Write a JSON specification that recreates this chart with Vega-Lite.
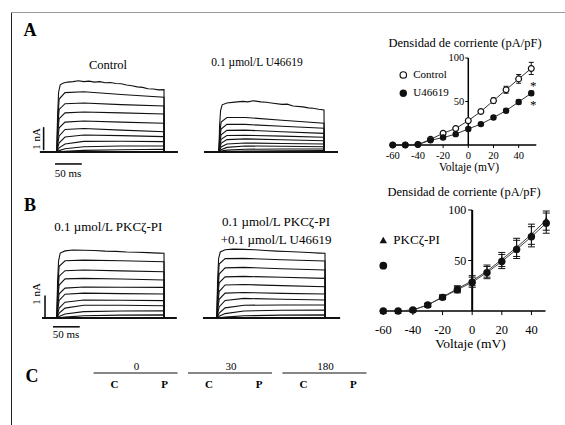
{
"$schema":"https://vega.github.io/schema/vega-lite/v6.json",
"width":565,"height":425,"autosize":"none","padding":0,"background":"white",
"data":{"values":[{"label":"figure"}]},
"datasets":{
"traces":[
{"p":"A1","k":1,"t":0,"i":0},{"p":"A1","k":1,"t":1,"i":1.5},{"p":"A1","k":1,"t":3,"i":2.6},{"p":"A1","k":1,"t":6,"i":2.92},{"p":"A1","k":1,"t":12,"i":3.0},{"p":"A1","k":1,"t":20,"i":3.04},{"p":"A1","k":1,"t":30,"i":3.06},{"p":"A1","k":1,"t":40,"i":3.1},{"p":"A1","k":1,"t":50,"i":3.06},{"p":"A1","k":1,"t":60,"i":3.08},{"p":"A1","k":1,"t":70,"i":3.04},{"p":"A1","k":1,"t":80,"i":3.06},{"p":"A1","k":1,"t":90,"i":3.01},{"p":"A1","k":1,"t":100,"i":3.02},{"p":"A1","k":1,"t":110,"i":2.98},{"p":"A1","k":1,"t":120,"i":2.97},{"p":"A1","k":1,"t":130,"i":2.91},{"p":"A1","k":1,"t":140,"i":2.88},{"p":"A1","k":1,"t":150,"i":2.83},{"p":"A1","k":1,"t":160,"i":2.81},{"p":"A1","k":1,"t":170,"i":2.75},{"p":"A1","k":1,"t":180,"i":2.74},{"p":"A1","k":1,"t":190,"i":2.7},{"p":"A1","k":1,"t":200,"i":2.71},{"p":"A1","k":1,"t":200.5,"i":0},
{"p":"A1","k":2,"t":0,"i":0},{"p":"A1","k":2,"t":1,"i":1.3},{"p":"A1","k":2,"t":4,"i":2.3},{"p":"A1","k":2,"t":15,"i":2.58},{"p":"A1","k":2,"t":50,"i":2.62},{"p":"A1","k":2,"t":120,"i":2.5},{"p":"A1","k":2,"t":200,"i":2.38},{"p":"A1","k":2,"t":200.5,"i":0},
{"p":"A1","k":3,"t":0,"i":0},{"p":"A1","k":3,"t":1,"i":1.0},{"p":"A1","k":3,"t":4,"i":1.85},{"p":"A1","k":3,"t":15,"i":2.1},{"p":"A1","k":3,"t":50,"i":2.13},{"p":"A1","k":3,"t":120,"i":2.06},{"p":"A1","k":3,"t":200,"i":2.0},{"p":"A1","k":3,"t":200.5,"i":0},
{"p":"A1","k":4,"t":0,"i":0},{"p":"A1","k":4,"t":1,"i":0.75},{"p":"A1","k":4,"t":4,"i":1.45},{"p":"A1","k":4,"t":15,"i":1.7},{"p":"A1","k":4,"t":50,"i":1.74},{"p":"A1","k":4,"t":120,"i":1.7},{"p":"A1","k":4,"t":200,"i":1.65},{"p":"A1","k":4,"t":200.5,"i":0},
{"p":"A1","k":5,"t":0,"i":0},{"p":"A1","k":5,"t":1,"i":0.5},{"p":"A1","k":5,"t":4,"i":1.05},{"p":"A1","k":5,"t":15,"i":1.3},{"p":"A1","k":5,"t":50,"i":1.35},{"p":"A1","k":5,"t":120,"i":1.3},{"p":"A1","k":5,"t":200,"i":1.25},{"p":"A1","k":5,"t":200.5,"i":0},
{"p":"A1","k":6,"t":0,"i":0},{"p":"A1","k":6,"t":1,"i":0.3},{"p":"A1","k":6,"t":4,"i":0.7},{"p":"A1","k":6,"t":15,"i":0.98},{"p":"A1","k":6,"t":50,"i":1.02},{"p":"A1","k":6,"t":120,"i":0.95},{"p":"A1","k":6,"t":200,"i":0.88},{"p":"A1","k":6,"t":200.5,"i":0},
{"p":"A1","k":7,"t":0,"i":0},{"p":"A1","k":7,"t":1,"i":0.15},{"p":"A1","k":7,"t":4,"i":0.4},{"p":"A1","k":7,"t":15,"i":0.65},{"p":"A1","k":7,"t":50,"i":0.74},{"p":"A1","k":7,"t":120,"i":0.71},{"p":"A1","k":7,"t":200,"i":0.67},{"p":"A1","k":7,"t":200.5,"i":0},
{"p":"A1","k":8,"t":0,"i":0},{"p":"A1","k":8,"t":1,"i":0.05},{"p":"A1","k":8,"t":4,"i":0.18},{"p":"A1","k":8,"t":15,"i":0.35},{"p":"A1","k":8,"t":50,"i":0.46},{"p":"A1","k":8,"t":120,"i":0.47},{"p":"A1","k":8,"t":200,"i":0.45},{"p":"A1","k":8,"t":200.5,"i":0},
{"p":"A1","k":9,"t":0,"i":0},{"p":"A1","k":9,"t":1,"i":0.02},{"p":"A1","k":9,"t":4,"i":0.06},{"p":"A1","k":9,"t":15,"i":0.14},{"p":"A1","k":9,"t":50,"i":0.23},{"p":"A1","k":9,"t":120,"i":0.26},{"p":"A1","k":9,"t":200,"i":0.26},{"p":"A1","k":9,"t":200.5,"i":0},
{"p":"A1","k":10,"t":0,"i":0},{"p":"A1","k":10,"t":1,"i":0},{"p":"A1","k":10,"t":4,"i":0.01},{"p":"A1","k":10,"t":15,"i":0.03},{"p":"A1","k":10,"t":50,"i":0.07},{"p":"A1","k":10,"t":120,"i":0.1},{"p":"A1","k":10,"t":200,"i":0.12},{"p":"A1","k":10,"t":200.5,"i":0},
{"p":"A2","k":1,"t":0,"i":0},{"p":"A2","k":1,"t":1,"i":1.1},{"p":"A2","k":1,"t":3,"i":1.8},{"p":"A2","k":1,"t":6,"i":2.05},{"p":"A2","k":1,"t":15,"i":2.13},{"p":"A2","k":1,"t":30,"i":2.17},{"p":"A2","k":1,"t":45,"i":2.2},{"p":"A2","k":1,"t":55,"i":2.18},{"p":"A2","k":1,"t":65,"i":2.23},{"p":"A2","k":1,"t":80,"i":2.18},{"p":"A2","k":1,"t":90,"i":2.16},{"p":"A2","k":1,"t":103,"i":2.12},{"p":"A2","k":1,"t":120,"i":2.07},{"p":"A2","k":1,"t":130,"i":2.08},{"p":"A2","k":1,"t":141,"i":2.0},{"p":"A2","k":1,"t":160,"i":1.96},{"p":"A2","k":1,"t":170,"i":1.92},{"p":"A2","k":1,"t":179,"i":1.9},{"p":"A2","k":1,"t":190,"i":1.86},{"p":"A2","k":1,"t":200,"i":1.83},{"p":"A2","k":1,"t":200.5,"i":0},
{"p":"A2","k":2,"t":0,"i":0},{"p":"A2","k":2,"t":1,"i":0.7},{"p":"A2","k":2,"t":4,"i":1.3},{"p":"A2","k":2,"t":15,"i":1.5},{"p":"A2","k":2,"t":50,"i":1.5},{"p":"A2","k":2,"t":120,"i":1.38},{"p":"A2","k":2,"t":200,"i":1.25},{"p":"A2","k":2,"t":200.5,"i":0},
{"p":"A2","k":3,"t":0,"i":0},{"p":"A2","k":3,"t":1,"i":0.5},{"p":"A2","k":3,"t":4,"i":1.0},{"p":"A2","k":3,"t":15,"i":1.2},{"p":"A2","k":3,"t":50,"i":1.2},{"p":"A2","k":3,"t":120,"i":1.12},{"p":"A2","k":3,"t":200,"i":1.03},{"p":"A2","k":3,"t":200.5,"i":0},
{"p":"A2","k":4,"t":0,"i":0},{"p":"A2","k":4,"t":1,"i":0.35},{"p":"A2","k":4,"t":4,"i":0.75},{"p":"A2","k":4,"t":15,"i":0.94},{"p":"A2","k":4,"t":50,"i":0.95},{"p":"A2","k":4,"t":120,"i":0.88},{"p":"A2","k":4,"t":200,"i":0.81},{"p":"A2","k":4,"t":200.5,"i":0},
{"p":"A2","k":5,"t":0,"i":0},{"p":"A2","k":5,"t":1,"i":0.22},{"p":"A2","k":5,"t":4,"i":0.55},{"p":"A2","k":5,"t":15,"i":0.72},{"p":"A2","k":5,"t":50,"i":0.73},{"p":"A2","k":5,"t":120,"i":0.69},{"p":"A2","k":5,"t":200,"i":0.64},{"p":"A2","k":5,"t":200.5,"i":0},
{"p":"A2","k":6,"t":0,"i":0},{"p":"A2","k":6,"t":1,"i":0.12},{"p":"A2","k":6,"t":4,"i":0.38},{"p":"A2","k":6,"t":15,"i":0.54},{"p":"A2","k":6,"t":50,"i":0.57},{"p":"A2","k":6,"t":120,"i":0.53},{"p":"A2","k":6,"t":200,"i":0.49},{"p":"A2","k":6,"t":200.5,"i":0},
{"p":"A2","k":7,"t":0,"i":0},{"p":"A2","k":7,"t":1,"i":0.06},{"p":"A2","k":7,"t":4,"i":0.22},{"p":"A2","k":7,"t":15,"i":0.35},{"p":"A2","k":7,"t":50,"i":0.39},{"p":"A2","k":7,"t":120,"i":0.37},{"p":"A2","k":7,"t":200,"i":0.35},{"p":"A2","k":7,"t":200.5,"i":0},
{"p":"A2","k":8,"t":0,"i":0},{"p":"A2","k":8,"t":1,"i":0.03},{"p":"A2","k":8,"t":4,"i":0.1},{"p":"A2","k":8,"t":15,"i":0.2},{"p":"A2","k":8,"t":50,"i":0.26},{"p":"A2","k":8,"t":120,"i":0.25},{"p":"A2","k":8,"t":200,"i":0.23},{"p":"A2","k":8,"t":200.5,"i":0},
{"p":"A2","k":9,"t":0,"i":0},{"p":"A2","k":9,"t":1,"i":0.01},{"p":"A2","k":9,"t":4,"i":0.04},{"p":"A2","k":9,"t":15,"i":0.08},{"p":"A2","k":9,"t":50,"i":0.12},{"p":"A2","k":9,"t":120,"i":0.13},{"p":"A2","k":9,"t":200,"i":0.13},{"p":"A2","k":9,"t":200.5,"i":0},
{"p":"A2","k":10,"t":0,"i":0},{"p":"A2","k":10,"t":1,"i":0},{"p":"A2","k":10,"t":4,"i":0.01},{"p":"A2","k":10,"t":15,"i":0.02},{"p":"A2","k":10,"t":50,"i":0.04},{"p":"A2","k":10,"t":120,"i":0.05},{"p":"A2","k":10,"t":200,"i":0.06},{"p":"A2","k":10,"t":200.5,"i":0},
{"p":"B1","k":1,"t":0,"i":0},{"p":"B1","k":1,"t":1,"i":1.6},{"p":"B1","k":1,"t":3,"i":2.6},{"p":"B1","k":1,"t":6,"i":2.95},{"p":"B1","k":1,"t":15,"i":3.05},{"p":"B1","k":1,"t":30,"i":3.09},{"p":"B1","k":1,"t":50,"i":3.08},{"p":"B1","k":1,"t":70,"i":3.07},{"p":"B1","k":1,"t":90,"i":3.04},{"p":"B1","k":1,"t":110,"i":3.03},{"p":"B1","k":1,"t":130,"i":3.0},{"p":"B1","k":1,"t":150,"i":2.99},{"p":"B1","k":1,"t":170,"i":2.97},{"p":"B1","k":1,"t":190,"i":2.95},{"p":"B1","k":1,"t":200,"i":2.94},{"p":"B1","k":1,"t":200.5,"i":0},
{"p":"B1","k":2,"t":0,"i":0},{"p":"B1","k":2,"t":1,"i":1.3},{"p":"B1","k":2,"t":4,"i":2.35},{"p":"B1","k":2,"t":15,"i":2.6},{"p":"B1","k":2,"t":50,"i":2.63},{"p":"B1","k":2,"t":120,"i":2.6},{"p":"B1","k":2,"t":200,"i":2.56},{"p":"B1","k":2,"t":200.5,"i":0},
{"p":"B1","k":3,"t":0,"i":0},{"p":"B1","k":3,"t":1,"i":1.0},{"p":"B1","k":3,"t":4,"i":1.9},{"p":"B1","k":3,"t":15,"i":2.15},{"p":"B1","k":3,"t":50,"i":2.18},{"p":"B1","k":3,"t":120,"i":2.14},{"p":"B1","k":3,"t":200,"i":2.1},{"p":"B1","k":3,"t":200.5,"i":0},
{"p":"B1","k":4,"t":0,"i":0},{"p":"B1","k":4,"t":1,"i":0.75},{"p":"B1","k":4,"t":4,"i":1.5},{"p":"B1","k":4,"t":15,"i":1.78},{"p":"B1","k":4,"t":50,"i":1.8},{"p":"B1","k":4,"t":120,"i":1.77},{"p":"B1","k":4,"t":200,"i":1.73},{"p":"B1","k":4,"t":200.5,"i":0},
{"p":"B1","k":5,"t":0,"i":0},{"p":"B1","k":5,"t":1,"i":0.5},{"p":"B1","k":5,"t":4,"i":1.1},{"p":"B1","k":5,"t":15,"i":1.36},{"p":"B1","k":5,"t":50,"i":1.41},{"p":"B1","k":5,"t":120,"i":1.4},{"p":"B1","k":5,"t":200,"i":1.39},{"p":"B1","k":5,"t":200.5,"i":0},
{"p":"B1","k":6,"t":0,"i":0},{"p":"B1","k":6,"t":1,"i":0.32},{"p":"B1","k":6,"t":4,"i":0.8},{"p":"B1","k":6,"t":15,"i":1.08},{"p":"B1","k":6,"t":50,"i":1.13},{"p":"B1","k":6,"t":120,"i":1.11},{"p":"B1","k":6,"t":200,"i":1.09},{"p":"B1","k":6,"t":200.5,"i":0},
{"p":"B1","k":7,"t":0,"i":0},{"p":"B1","k":7,"t":1,"i":0.15},{"p":"B1","k":7,"t":4,"i":0.45},{"p":"B1","k":7,"t":15,"i":0.72},{"p":"B1","k":7,"t":50,"i":0.82},{"p":"B1","k":7,"t":120,"i":0.81},{"p":"B1","k":7,"t":200,"i":0.79},{"p":"B1","k":7,"t":200.5,"i":0},
{"p":"B1","k":8,"t":0,"i":0},{"p":"B1","k":8,"t":1,"i":0.06},{"p":"B1","k":8,"t":4,"i":0.22},{"p":"B1","k":8,"t":15,"i":0.45},{"p":"B1","k":8,"t":50,"i":0.58},{"p":"B1","k":8,"t":120,"i":0.58},{"p":"B1","k":8,"t":200,"i":0.56},{"p":"B1","k":8,"t":200.5,"i":0},
{"p":"B1","k":9,"t":0,"i":0},{"p":"B1","k":9,"t":1,"i":0.02},{"p":"B1","k":9,"t":4,"i":0.07},{"p":"B1","k":9,"t":15,"i":0.18},{"p":"B1","k":9,"t":50,"i":0.29},{"p":"B1","k":9,"t":120,"i":0.32},{"p":"B1","k":9,"t":200,"i":0.33},{"p":"B1","k":9,"t":200.5,"i":0},
{"p":"B1","k":10,"t":0,"i":0},{"p":"B1","k":10,"t":1,"i":0},{"p":"B1","k":10,"t":4,"i":0.01},{"p":"B1","k":10,"t":15,"i":0.04},{"p":"B1","k":10,"t":50,"i":0.1},{"p":"B1","k":10,"t":120,"i":0.13},{"p":"B1","k":10,"t":200,"i":0.14},{"p":"B1","k":10,"t":200.5,"i":0},
{"p":"B2","k":1,"t":0,"i":0},{"p":"B2","k":1,"t":1,"i":1.6},{"p":"B2","k":1,"t":3,"i":2.7},{"p":"B2","k":1,"t":6,"i":3.0},{"p":"B2","k":1,"t":15,"i":3.1},{"p":"B2","k":1,"t":30,"i":3.13},{"p":"B2","k":1,"t":50,"i":3.12},{"p":"B2","k":1,"t":70,"i":3.1},{"p":"B2","k":1,"t":90,"i":3.07},{"p":"B2","k":1,"t":110,"i":3.04},{"p":"B2","k":1,"t":130,"i":3.02},{"p":"B2","k":1,"t":150,"i":3.0},{"p":"B2","k":1,"t":170,"i":2.98},{"p":"B2","k":1,"t":190,"i":2.95},{"p":"B2","k":1,"t":200,"i":2.94},{"p":"B2","k":1,"t":200.5,"i":0},
{"p":"B2","k":2,"t":0,"i":0},{"p":"B2","k":2,"t":1,"i":1.35},{"p":"B2","k":2,"t":4,"i":2.45},{"p":"B2","k":2,"t":15,"i":2.7},{"p":"B2","k":2,"t":50,"i":2.71},{"p":"B2","k":2,"t":120,"i":2.65},{"p":"B2","k":2,"t":200,"i":2.59},{"p":"B2","k":2,"t":200.5,"i":0},
{"p":"B2","k":3,"t":0,"i":0},{"p":"B2","k":3,"t":1,"i":1.05},{"p":"B2","k":3,"t":4,"i":2.0},{"p":"B2","k":3,"t":15,"i":2.28},{"p":"B2","k":3,"t":50,"i":2.3},{"p":"B2","k":3,"t":120,"i":2.24},{"p":"B2","k":3,"t":200,"i":2.18},{"p":"B2","k":3,"t":200.5,"i":0},
{"p":"B2","k":4,"t":0,"i":0},{"p":"B2","k":4,"t":1,"i":0.8},{"p":"B2","k":4,"t":4,"i":1.6},{"p":"B2","k":4,"t":15,"i":1.87},{"p":"B2","k":4,"t":50,"i":1.89},{"p":"B2","k":4,"t":120,"i":1.85},{"p":"B2","k":4,"t":200,"i":1.8},{"p":"B2","k":4,"t":200.5,"i":0},
{"p":"B2","k":5,"t":0,"i":0},{"p":"B2","k":5,"t":1,"i":0.55},{"p":"B2","k":5,"t":4,"i":1.2},{"p":"B2","k":5,"t":15,"i":1.5},{"p":"B2","k":5,"t":50,"i":1.52},{"p":"B2","k":5,"t":120,"i":1.47},{"p":"B2","k":5,"t":200,"i":1.42},{"p":"B2","k":5,"t":200.5,"i":0},
{"p":"B2","k":6,"t":0,"i":0},{"p":"B2","k":6,"t":1,"i":0.33},{"p":"B2","k":6,"t":4,"i":0.85},{"p":"B2","k":6,"t":15,"i":1.13},{"p":"B2","k":6,"t":50,"i":1.16},{"p":"B2","k":6,"t":120,"i":1.12},{"p":"B2","k":6,"t":200,"i":1.09},{"p":"B2","k":6,"t":200.5,"i":0},
{"p":"B2","k":7,"t":0,"i":0},{"p":"B2","k":7,"t":1,"i":0.16},{"p":"B2","k":7,"t":4,"i":0.5},{"p":"B2","k":7,"t":15,"i":0.8},{"p":"B2","k":7,"t":50,"i":0.89},{"p":"B2","k":7,"t":120,"i":0.85},{"p":"B2","k":7,"t":200,"i":0.82},{"p":"B2","k":7,"t":200.5,"i":0},
{"p":"B2","k":8,"t":0,"i":0},{"p":"B2","k":8,"t":1,"i":0.06},{"p":"B2","k":8,"t":4,"i":0.22},{"p":"B2","k":8,"t":15,"i":0.46},{"p":"B2","k":8,"t":50,"i":0.58},{"p":"B2","k":8,"t":120,"i":0.59},{"p":"B2","k":8,"t":200,"i":0.59},{"p":"B2","k":8,"t":200.5,"i":0},
{"p":"B2","k":9,"t":0,"i":0},{"p":"B2","k":9,"t":1,"i":0.02},{"p":"B2","k":9,"t":4,"i":0.08},{"p":"B2","k":9,"t":15,"i":0.2},{"p":"B2","k":9,"t":50,"i":0.32},{"p":"B2","k":9,"t":120,"i":0.35},{"p":"B2","k":9,"t":200,"i":0.36},{"p":"B2","k":9,"t":200.5,"i":0},
{"p":"B2","k":10,"t":0,"i":0},{"p":"B2","k":10,"t":1,"i":0},{"p":"B2","k":10,"t":4,"i":0.01},{"p":"B2","k":10,"t":15,"i":0.04},{"p":"B2","k":10,"t":50,"i":0.1},{"p":"B2","k":10,"t":120,"i":0.13},{"p":"B2","k":10,"t":200,"i":0.14},{"p":"B2","k":10,"t":200.5,"i":0}
],
"iv":[
{"panel":"A","s":"Control","v":-60,"m":0,"lo":-0.5,"hi":0.5},{"panel":"A","s":"Control","v":-50,"m":0,"lo":-0.5,"hi":0.5},{"panel":"A","s":"Control","v":-40,"m":0.5,"lo":0,"hi":1},{"panel":"A","s":"Control","v":-30,"m":6.5,"lo":5.5,"hi":7.5},{"panel":"A","s":"Control","v":-20,"m":13.5,"lo":12,"hi":15},{"panel":"A","s":"Control","v":-10,"m":19,"lo":17.5,"hi":20.5},{"panel":"A","s":"Control","v":0,"m":28,"lo":26,"hi":30},{"panel":"A","s":"Control","v":10,"m":38.5,"lo":36.5,"hi":40.5},{"panel":"A","s":"Control","v":20,"m":51,"lo":48,"hi":54},{"panel":"A","s":"Control","v":30,"m":63.5,"lo":59.5,"hi":67.5},{"panel":"A","s":"Control","v":40,"m":76,"lo":71,"hi":81},{"panel":"A","s":"Control","v":50,"m":88,"lo":81,"hi":95},
{"panel":"A","s":"U46619","v":-60,"m":0,"lo":-0.5,"hi":0.5},{"panel":"A","s":"U46619","v":-50,"m":0,"lo":-0.5,"hi":0.5},{"panel":"A","s":"U46619","v":-40,"m":0.5,"lo":0,"hi":1},{"panel":"A","s":"U46619","v":-30,"m":5.5,"lo":4.5,"hi":6.5},{"panel":"A","s":"U46619","v":-20,"m":8.5,"lo":7,"hi":10},{"panel":"A","s":"U46619","v":-10,"m":12.5,"lo":11,"hi":14},{"panel":"A","s":"U46619","v":0,"m":18.5,"lo":17,"hi":20},{"panel":"A","s":"U46619","v":10,"m":24,"lo":22.5,"hi":25.5},{"panel":"A","s":"U46619","v":20,"m":31.5,"lo":29.5,"hi":33.5},{"panel":"A","s":"U46619","v":30,"m":39.5,"lo":37.5,"hi":41.5},{"panel":"A","s":"U46619","v":40,"m":49.5,"lo":47,"hi":52},{"panel":"A","s":"U46619","v":50,"m":59.5,"lo":57,"hi":62},
{"panel":"B","s":"PKCζ-PI","v":-60,"m":0,"lo":-0.5,"hi":0.5},{"panel":"B","s":"PKCζ-PI","v":-50,"m":0,"lo":-0.5,"hi":0.5},{"panel":"B","s":"PKCζ-PI","v":-40,"m":1,"lo":0,"hi":2},{"panel":"B","s":"PKCζ-PI","v":-30,"m":6,"lo":4.5,"hi":7.5},{"panel":"B","s":"PKCζ-PI","v":-20,"m":14,"lo":12,"hi":16},{"panel":"B","s":"PKCζ-PI","v":-10,"m":22,"lo":19,"hi":25},{"panel":"B","s":"PKCζ-PI","v":0,"m":30,"lo":25,"hi":35},{"panel":"B","s":"PKCζ-PI","v":10,"m":39.5,"lo":33.5,"hi":45.5},{"panel":"B","s":"PKCζ-PI","v":20,"m":51,"lo":44,"hi":58},{"panel":"B","s":"PKCζ-PI","v":30,"m":63,"lo":54,"hi":72},{"panel":"B","s":"PKCζ-PI","v":40,"m":76,"lo":66,"hi":86},{"panel":"B","s":"PKCζ-PI","v":50,"m":90,"lo":80,"hi":99},
{"panel":"B","s":"PKCζ-PI+U46619","v":-60,"m":0,"lo":-0.5,"hi":0.5},{"panel":"B","s":"PKCζ-PI+U46619","v":-50,"m":0,"lo":-0.5,"hi":0.5},{"panel":"B","s":"PKCζ-PI+U46619","v":-40,"m":1,"lo":0,"hi":2},{"panel":"B","s":"PKCζ-PI+U46619","v":-30,"m":6,"lo":4.5,"hi":7.5},{"panel":"B","s":"PKCζ-PI+U46619","v":-20,"m":13.5,"lo":11.5,"hi":15.5},{"panel":"B","s":"PKCζ-PI+U46619","v":-10,"m":21,"lo":18,"hi":24},{"panel":"B","s":"PKCζ-PI+U46619","v":0,"m":28.5,"lo":23.5,"hi":33.5},{"panel":"B","s":"PKCζ-PI+U46619","v":10,"m":38,"lo":32,"hi":44},{"panel":"B","s":"PKCζ-PI+U46619","v":20,"m":49,"lo":42,"hi":56},{"panel":"B","s":"PKCζ-PI+U46619","v":30,"m":61,"lo":52,"hi":70},{"panel":"B","s":"PKCζ-PI+U46619","v":40,"m":73.5,"lo":63.5,"hi":83.5},{"panel":"B","s":"PKCζ-PI+U46619","v":50,"m":87,"lo":77,"hi":97}
],
"xticks":[{"v":-60,"label":"-60"},{"v":-40,"label":"-40"},{"v":-20,"label":"-20"},{"v":0,"label":"0"},{"v":20,"label":"20"},{"v":40,"label":"40"}],
"yticks":[{"m":50,"label":"50"},{"m":100,"label":"100"}],
"cpanel":[
{"time":"0","lane":"C"},{"time":"0","lane":"P"},{"time":"30","lane":"C"},{"time":"30","lane":"P"},{"time":"180","lane":"C"},{"time":"180","lane":"P"}
]
},
"layer":[
{"layer":[
 {"mark":{"type":"rule","color":"#222","strokeWidth":1},"encoding":{"x":{"datum":0,"type":"quantitative","scale":{"domain":[0,1],"range":[11.5,565],"nice":false,"zero":false},"axis":null},"y":{"datum":0,"type":"quantitative","scale":{"domain":[0,1],"range":[425,12.5],"nice":false,"zero":false},"axis":null},"y2":{"datum":1}}},
 {"mark":{"type":"rule","color":"#999","strokeWidth":1},"encoding":{"x":{"datum":0,"type":"quantitative","scale":{"domain":[0,1],"range":[11.5,565],"nice":false,"zero":false},"axis":null},"x2":{"datum":1},"y":{"datum":1,"type":"quantitative","scale":{"domain":[0,1],"range":[425,12.5],"nice":false,"zero":false},"axis":null}}}
]},
{"layer":[
 {"data":{"name":"traces"},"transform":[{"filter":"datum.p=='A1'"}],"mark":{"type":"line","color":"#111","strokeWidth":1.1},"encoding":{"x":{"field":"t","type":"quantitative","scale":{"domain":[-40,240],"range":[35.6,185.4],"nice":false,"zero":false},"axis":null},"y":{"field":"i","type":"quantitative","scale":{"domain":[0,3],"range":[152,83],"nice":false,"zero":false},"axis":null},"detail":{"field":"k","type":"nominal"}}},
 {"mark":{"type":"rule","color":"#111","strokeWidth":2.2},"encoding":{"x":{"datum":-32,"type":"quantitative","scale":{"domain":[-40,240],"range":[35.6,185.4],"nice":false,"zero":false},"axis":null},"x2":{"datum":226},"y":{"datum":0,"type":"quantitative","scale":{"domain":[0,3],"range":[152,83],"nice":false,"zero":false},"axis":null}}},
 {"mark":{"type":"rule","color":"#111","strokeWidth":1.6},"encoding":{"x":{"datum":-25,"type":"quantitative","scale":{"domain":[-40,240],"range":[35.6,185.4],"nice":false,"zero":false},"axis":null},"y":{"datum":0.08,"type":"quantitative","scale":{"domain":[0,3],"range":[152,83],"nice":false,"zero":false},"axis":null},"y2":{"datum":1.08}}},
 {"mark":{"type":"rule","color":"#111","strokeWidth":1.6},"encoding":{"x":{"datum":-3.7,"type":"quantitative","scale":{"domain":[-40,240],"range":[35.6,185.4],"nice":false,"zero":false},"axis":null},"x2":{"datum":46.3},"y":{"datum":-0.52,"type":"quantitative","scale":{"domain":[0,3],"range":[152,83],"nice":false,"zero":false},"axis":null}}},
 {"mark":{"type":"text","text":"1 nA","angle":270,"fontSize":11,"color":"#000"},"encoding":{"x":{"datum":-37.4,"type":"quantitative","scale":{"domain":[-40,240],"range":[35.6,185.4],"nice":false,"zero":false},"axis":null},"y":{"datum":0.57,"type":"quantitative","scale":{"domain":[0,3],"range":[152,83],"nice":false,"zero":false},"axis":null}}},
 {"mark":{"type":"text","text":"50 ms","fontSize":11,"color":"#000"},"encoding":{"x":{"datum":20.6,"type":"quantitative","scale":{"domain":[-40,240],"range":[35.6,185.4],"nice":false,"zero":false},"axis":null},"y":{"datum":-0.96,"type":"quantitative","scale":{"domain":[0,3],"range":[152,83],"nice":false,"zero":false},"axis":null}}},
 {"mark":{"type":"text","text":"Control","fontSize":12.5,"color":"#000"},"encoding":{"x":{"datum":95.3,"type":"quantitative","scale":{"domain":[-40,240],"range":[35.6,185.4],"nice":false,"zero":false},"axis":null},"y":{"datum":3.78,"type":"quantitative","scale":{"domain":[0,3],"range":[152,83],"nice":false,"zero":false},"axis":null}}},
 {"mark":{"type":"text","text":"A","fontSize":18,"fontWeight":"bold","color":"#000"},"encoding":{"x":{"datum":-50.5,"type":"quantitative","scale":{"domain":[-40,240],"range":[35.6,185.4],"nice":false,"zero":false},"axis":null},"y":{"datum":5.26,"type":"quantitative","scale":{"domain":[0,3],"range":[152,83],"nice":false,"zero":false},"axis":null}}}
]},
{"layer":[
 {"data":{"name":"traces"},"transform":[{"filter":"datum.p=='A2'"}],"mark":{"type":"line","color":"#111","strokeWidth":1.1},"encoding":{"x":{"field":"t","type":"quantitative","scale":{"domain":[-40,240],"range":[198,345],"nice":false,"zero":false},"axis":null},"y":{"field":"i","type":"quantitative","scale":{"domain":[0,3],"range":[152,83],"nice":false,"zero":false},"axis":null},"detail":{"field":"k","type":"nominal"}}},
 {"mark":{"type":"rule","color":"#111","strokeWidth":2.2},"encoding":{"x":{"datum":-28.6,"type":"quantitative","scale":{"domain":[-40,240],"range":[198,345],"nice":false,"zero":false},"axis":null},"x2":{"datum":226.7},"y":{"datum":0,"type":"quantitative","scale":{"domain":[0,3],"range":[152,83],"nice":false,"zero":false},"axis":null}}},
 {"mark":{"type":"text","text":"0.1 µmol/L U46619","fontSize":11.5,"color":"#000"},"encoding":{"x":{"datum":72.4,"type":"quantitative","scale":{"domain":[-40,240],"range":[198,345],"nice":false,"zero":false},"axis":null},"y":{"datum":3.87,"type":"quantitative","scale":{"domain":[0,3],"range":[152,83],"nice":false,"zero":false},"axis":null}}}
]},
{"layer":[
 {"data":{"name":"traces"},"transform":[{"filter":"datum.p=='B1'"}],"mark":{"type":"line","color":"#111","strokeWidth":1.1},"encoding":{"x":{"field":"t","type":"quantitative","scale":{"domain":[-40,240],"range":[35.6,185.4],"nice":false,"zero":false},"axis":null},"y":{"field":"i","type":"quantitative","scale":{"domain":[0,3],"range":[318,252],"nice":false,"zero":false},"axis":null},"detail":{"field":"k","type":"nominal"}}},
 {"mark":{"type":"rule","color":"#111","strokeWidth":2.2},"encoding":{"x":{"datum":-28,"type":"quantitative","scale":{"domain":[-40,240],"range":[35.6,185.4],"nice":false,"zero":false},"axis":null},"x2":{"datum":224},"y":{"datum":0,"type":"quantitative","scale":{"domain":[0,3],"range":[318,252],"nice":false,"zero":false},"axis":null}}},
 {"mark":{"type":"rule","color":"#111","strokeWidth":1.6},"encoding":{"x":{"datum":-22.4,"type":"quantitative","scale":{"domain":[-40,240],"range":[35.6,185.4],"nice":false,"zero":false},"axis":null},"y":{"datum":0.05,"type":"quantitative","scale":{"domain":[0,3],"range":[318,252],"nice":false,"zero":false},"axis":null},"y2":{"datum":1.02}}},
 {"mark":{"type":"rule","color":"#111","strokeWidth":1.6},"encoding":{"x":{"datum":-7.5,"type":"quantitative","scale":{"domain":[-40,240],"range":[35.6,185.4],"nice":false,"zero":false},"axis":null},"x2":{"datum":42.5},"y":{"datum":-0.4,"type":"quantitative","scale":{"domain":[0,3],"range":[318,252],"nice":false,"zero":false},"axis":null}}},
 {"mark":{"type":"text","text":"1 nA","angle":270,"fontSize":11,"color":"#000"},"encoding":{"x":{"datum":-37.4,"type":"quantitative","scale":{"domain":[-40,240],"range":[35.6,185.4],"nice":false,"zero":false},"axis":null},"y":{"datum":1.09,"type":"quantitative","scale":{"domain":[0,3],"range":[318,252],"nice":false,"zero":false},"axis":null}}},
 {"mark":{"type":"text","text":"50 ms","fontSize":11,"color":"#000"},"encoding":{"x":{"datum":16.8,"type":"quantitative","scale":{"domain":[-40,240],"range":[35.6,185.4],"nice":false,"zero":false},"axis":null},"y":{"datum":-0.77,"type":"quantitative","scale":{"domain":[0,3],"range":[318,252],"nice":false,"zero":false},"axis":null}}},
 {"mark":{"type":"text","text":"0.1 µmol/L PKCζ-PI","fontSize":13,"color":"#000"},"encoding":{"x":{"datum":95.9,"type":"quantitative","scale":{"domain":[-40,240],"range":[35.6,185.4],"nice":false,"zero":false},"axis":null},"y":{"datum":4.14,"type":"quantitative","scale":{"domain":[0,3],"range":[318,252],"nice":false,"zero":false},"axis":null}}},
 {"mark":{"type":"text","text":"B","fontSize":18,"fontWeight":"bold","color":"#000"},"encoding":{"x":{"datum":-50.5,"type":"quantitative","scale":{"domain":[-40,240],"range":[35.6,185.4],"nice":false,"zero":false},"axis":null},"y":{"datum":5.09,"type":"quantitative","scale":{"domain":[0,3],"range":[318,252],"nice":false,"zero":false},"axis":null}}},
 {"mark":{"type":"text","text":"C","fontSize":18,"fontWeight":"bold","color":"#000"},"encoding":{"x":{"datum":-46.7,"type":"quantitative","scale":{"domain":[-40,240],"range":[35.6,185.4],"nice":false,"zero":false},"axis":null},"y":{"datum":-2.68,"type":"quantitative","scale":{"domain":[0,3],"range":[318,252],"nice":false,"zero":false},"axis":null}}}
]},
{"layer":[
 {"data":{"name":"traces"},"transform":[{"filter":"datum.p=='B2'"}],"mark":{"type":"line","color":"#111","strokeWidth":1.1},"encoding":{"x":{"field":"t","type":"quantitative","scale":{"domain":[-40,240],"range":[195.4,346.6],"nice":false,"zero":false},"axis":null},"y":{"field":"i","type":"quantitative","scale":{"domain":[0,3],"range":[318,252],"nice":false,"zero":false},"axis":null},"detail":{"field":"k","type":"nominal"}}},
 {"mark":{"type":"rule","color":"#111","strokeWidth":2.2},"encoding":{"x":{"datum":-26,"type":"quantitative","scale":{"domain":[-40,240],"range":[195.4,346.6],"nice":false,"zero":false},"axis":null},"x2":{"datum":228},"y":{"datum":0,"type":"quantitative","scale":{"domain":[0,3],"range":[318,252],"nice":false,"zero":false},"axis":null}}},
 {"mark":{"type":"text","text":"0.1 µmol/L PKCζ-PI","fontSize":13,"color":"#000"},"encoding":{"x":{"datum":109.3,"type":"quantitative","scale":{"domain":[-40,240],"range":[195.4,346.6],"nice":false,"zero":false},"axis":null},"y":{"datum":4.36,"type":"quantitative","scale":{"domain":[0,3],"range":[318,252],"nice":false,"zero":false},"axis":null}}},
 {"mark":{"type":"text","text":"+0.1 µmol/L U46619","fontSize":13,"color":"#000"},"encoding":{"x":{"datum":109.3,"type":"quantitative","scale":{"domain":[-40,240],"range":[195.4,346.6],"nice":false,"zero":false},"axis":null},"y":{"datum":3.55,"type":"quantitative","scale":{"domain":[0,3],"range":[318,252],"nice":false,"zero":false},"axis":null}}}
]},
{"layer":[
 {"mark":{"type":"rule","color":"#000","strokeWidth":1.5},"encoding":{"x":{"datum":-62,"type":"quantitative","scale":{"domain":[-62,54],"range":[390.2,536.3],"nice":false,"zero":false},"axis":null},"x2":{"datum":54},"y":{"datum":0,"type":"quantitative","scale":{"domain":[0,100],"range":[145,58],"nice":false,"zero":false},"axis":null}}},
 {"mark":{"type":"rule","color":"#000","strokeWidth":1.5},"encoding":{"x":{"datum":0,"type":"quantitative","scale":{"domain":[-62,54],"range":[390.2,536.3],"nice":false,"zero":false},"axis":null},"y":{"datum":0,"type":"quantitative","scale":{"domain":[0,100],"range":[145,58],"nice":false,"zero":false},"axis":null},"y2":{"datum":100}}},
 {"data":{"name":"xticks"},"mark":{"type":"rule","color":"#000","strokeWidth":1},"encoding":{"x":{"field":"v","type":"quantitative","scale":{"domain":[-62,54],"range":[390.2,536.3],"nice":false,"zero":false},"axis":null},"y":{"datum":0,"type":"quantitative","scale":{"domain":[0,100],"range":[145,58],"nice":false,"zero":false},"axis":null},"y2":{"datum":-3.4}}},
 {"data":{"name":"xticks"},"mark":{"type":"text","fontSize":10.5,"color":"#000"},"encoding":{"x":{"field":"v","type":"quantitative","scale":{"domain":[-62,54],"range":[390.2,536.3],"nice":false,"zero":false},"axis":null},"y":{"datum":-12.9,"type":"quantitative","scale":{"domain":[0,100],"range":[145,58],"nice":false,"zero":false},"axis":null},"text":{"field":"label"}}},
 {"data":{"name":"yticks"},"mark":{"type":"rule","color":"#000","strokeWidth":1},"encoding":{"x":{"datum":-2.4,"type":"quantitative","scale":{"domain":[-62,54],"range":[390.2,536.3],"nice":false,"zero":false},"axis":null},"x2":{"datum":0},"y":{"field":"m","type":"quantitative","scale":{"domain":[0,100],"range":[145,58],"nice":false,"zero":false},"axis":null}}},
 {"data":{"name":"yticks"},"mark":{"type":"text","fontSize":10.5,"color":"#000","align":"right"},"encoding":{"x":{"datum":-3.2,"type":"quantitative","scale":{"domain":[-62,54],"range":[390.2,536.3],"nice":false,"zero":false},"axis":null},"y":{"field":"m","type":"quantitative","scale":{"domain":[0,100],"range":[145,58],"nice":false,"zero":false},"axis":null},"text":{"field":"label"}}},
 {"mark":{"type":"text","text":"Voltaje (mV)","fontSize":11.5,"color":"#000"},"encoding":{"x":{"datum":0.6,"type":"quantitative","scale":{"domain":[-62,54],"range":[390.2,536.3],"nice":false,"zero":false},"axis":null},"y":{"datum":-26.2,"type":"quantitative","scale":{"domain":[0,100],"range":[145,58],"nice":false,"zero":false},"axis":null}}},
 {"data":{"name":"iv"},"transform":[{"filter":"datum.panel=='A'"}],"mark":{"type":"line","color":"#333","strokeWidth":1},"encoding":{"x":{"field":"v","type":"quantitative","scale":{"domain":[-62,54],"range":[390.2,536.3],"nice":false,"zero":false},"axis":null},"y":{"field":"m","type":"quantitative","scale":{"domain":[0,100],"range":[145,58],"nice":false,"zero":false},"axis":null},"detail":{"field":"s","type":"nominal"}}},
 {"data":{"name":"iv"},"transform":[{"filter":"datum.panel=='A'"}],"mark":{"type":"rule","color":"#111","strokeWidth":1},"encoding":{"x":{"field":"v","type":"quantitative","scale":{"domain":[-62,54],"range":[390.2,536.3],"nice":false,"zero":false},"axis":null},"y":{"field":"lo","type":"quantitative","scale":{"domain":[0,100],"range":[145,58],"nice":false,"zero":false},"axis":null},"y2":{"field":"hi"}}},
 {"data":{"name":"iv"},"transform":[{"filter":"datum.panel=='A'"}],"mark":{"type":"tick","orient":"horizontal","size":5,"thickness":1,"color":"#111","opacity":1},"encoding":{"x":{"field":"v","type":"quantitative","scale":{"domain":[-62,54],"range":[390.2,536.3],"nice":false,"zero":false},"axis":null},"y":{"field":"lo","type":"quantitative","scale":{"domain":[0,100],"range":[145,58],"nice":false,"zero":false},"axis":null}}},
 {"data":{"name":"iv"},"transform":[{"filter":"datum.panel=='A'"}],"mark":{"type":"tick","orient":"horizontal","size":5,"thickness":1,"color":"#111","opacity":1},"encoding":{"x":{"field":"v","type":"quantitative","scale":{"domain":[-62,54],"range":[390.2,536.3],"nice":false,"zero":false},"axis":null},"y":{"field":"hi","type":"quantitative","scale":{"domain":[0,100],"range":[145,58],"nice":false,"zero":false},"axis":null}}},
 {"data":{"name":"iv"},"transform":[{"filter":"datum.s=='Control'"}],"mark":{"type":"point","shape":"circle","filled":true,"fill":"white","stroke":"#111","strokeWidth":1.2,"size":34,"opacity":1},"encoding":{"x":{"field":"v","type":"quantitative","scale":{"domain":[-62,54],"range":[390.2,536.3],"nice":false,"zero":false},"axis":null},"y":{"field":"m","type":"quantitative","scale":{"domain":[0,100],"range":[145,58],"nice":false,"zero":false},"axis":null}}},
 {"data":{"name":"iv"},"transform":[{"filter":"datum.s=='U46619'"}],"mark":{"type":"point","shape":"circle","filled":true,"color":"#111","size":42,"opacity":1},"encoding":{"x":{"field":"v","type":"quantitative","scale":{"domain":[-62,54],"range":[390.2,536.3],"nice":false,"zero":false},"axis":null},"y":{"field":"m","type":"quantitative","scale":{"domain":[0,100],"range":[145,58],"nice":false,"zero":false},"axis":null}}},
 {"mark":{"type":"point","shape":"circle","filled":true,"fill":"white","stroke":"#111","strokeWidth":1.2,"size":42,"opacity":1},"encoding":{"x":{"datum":-51.6,"type":"quantitative","scale":{"domain":[-62,54],"range":[390.2,536.3],"nice":false,"zero":false},"axis":null},"y":{"datum":80.5,"type":"quantitative","scale":{"domain":[0,100],"range":[145,58],"nice":false,"zero":false},"axis":null}}},
 {"mark":{"type":"point","shape":"circle","filled":true,"color":"#111","size":55,"opacity":1},"encoding":{"x":{"datum":-51.6,"type":"quantitative","scale":{"domain":[-62,54],"range":[390.2,536.3],"nice":false,"zero":false},"axis":null},"y":{"datum":59.4,"type":"quantitative","scale":{"domain":[0,100],"range":[145,58],"nice":false,"zero":false},"axis":null}}},
 {"mark":{"type":"text","text":"Control","fontSize":11,"align":"left","color":"#000"},"encoding":{"x":{"datum":-43.7,"type":"quantitative","scale":{"domain":[-62,54],"range":[390.2,536.3],"nice":false,"zero":false},"axis":null},"y":{"datum":80.5,"type":"quantitative","scale":{"domain":[0,100],"range":[145,58],"nice":false,"zero":false},"axis":null}}},
 {"mark":{"type":"text","text":"U46619","fontSize":11,"align":"left","color":"#000"},"encoding":{"x":{"datum":-43.7,"type":"quantitative","scale":{"domain":[-62,54],"range":[390.2,536.3],"nice":false,"zero":false},"axis":null},"y":{"datum":59.4,"type":"quantitative","scale":{"domain":[0,100],"range":[145,58],"nice":false,"zero":false},"axis":null}}},
 {"mark":{"type":"text","text":"Densidad de corriente (pA/pF)","fontSize":12.5,"color":"#000"},"encoding":{"x":{"datum":-2.6,"type":"quantitative","scale":{"domain":[-62,54],"range":[390.2,536.3],"nice":false,"zero":false},"axis":null},"y":{"datum":116.9,"type":"quantitative","scale":{"domain":[0,100],"range":[145,58],"nice":false,"zero":false},"axis":null}}},
 {"mark":{"type":"text","text":"*","fontSize":13,"dy":3,"color":"#000"},"encoding":{"x":{"datum":51.6,"type":"quantitative","scale":{"domain":[-62,54],"range":[390.2,536.3],"nice":false,"zero":false},"axis":null},"y":{"datum":70.9,"type":"quantitative","scale":{"domain":[0,100],"range":[145,58],"nice":false,"zero":false},"axis":null}}},
 {"mark":{"type":"text","text":"*","fontSize":13,"dy":3,"color":"#000"},"encoding":{"x":{"datum":51.6,"type":"quantitative","scale":{"domain":[-62,54],"range":[390.2,536.3],"nice":false,"zero":false},"axis":null},"y":{"datum":49.1,"type":"quantitative","scale":{"domain":[0,100],"range":[145,58],"nice":false,"zero":false},"axis":null}}}
]},
{"layer":[
 {"mark":{"type":"rule","color":"#000","strokeWidth":1.6},"encoding":{"x":{"datum":-60,"type":"quantitative","scale":{"domain":[-60,49.5],"range":[383.3,545.5],"nice":false,"zero":false},"axis":null},"x2":{"datum":49.5},"y":{"datum":0,"type":"quantitative","scale":{"domain":[0,100],"range":[311,210],"nice":false,"zero":false},"axis":null}}},
 {"mark":{"type":"rule","color":"#000","strokeWidth":2},"encoding":{"x":{"datum":0,"type":"quantitative","scale":{"domain":[-60,49.5],"range":[383.3,545.5],"nice":false,"zero":false},"axis":null},"y":{"datum":0,"type":"quantitative","scale":{"domain":[0,100],"range":[311,210],"nice":false,"zero":false},"axis":null},"y2":{"datum":100}}},
 {"data":{"name":"xticks"},"mark":{"type":"rule","color":"#000","strokeWidth":1},"encoding":{"x":{"field":"v","type":"quantitative","scale":{"domain":[-60,49.5],"range":[383.3,545.5],"nice":false,"zero":false},"axis":null},"y":{"datum":0,"type":"quantitative","scale":{"domain":[0,100],"range":[311,210],"nice":false,"zero":false},"axis":null},"y2":{"datum":-4}}},
 {"data":{"name":"xticks"},"mark":{"type":"text","fontSize":12.5,"color":"#000"},"encoding":{"x":{"field":"v","type":"quantitative","scale":{"domain":[-60,49.5],"range":[383.3,545.5],"nice":false,"zero":false},"axis":null},"y":{"datum":-19.2,"type":"quantitative","scale":{"domain":[0,100],"range":[311,210],"nice":false,"zero":false},"axis":null},"text":{"field":"label"}}},
 {"data":{"name":"yticks"},"mark":{"type":"rule","color":"#000","strokeWidth":1},"encoding":{"x":{"datum":-2.7,"type":"quantitative","scale":{"domain":[-60,49.5],"range":[383.3,545.5],"nice":false,"zero":false},"axis":null},"x2":{"datum":0},"y":{"field":"m","type":"quantitative","scale":{"domain":[0,100],"range":[311,210],"nice":false,"zero":false},"axis":null}}},
 {"data":{"name":"yticks"},"mark":{"type":"text","fontSize":12,"color":"#000","align":"right"},"encoding":{"x":{"datum":-4.05,"type":"quantitative","scale":{"domain":[-60,49.5],"range":[383.3,545.5],"nice":false,"zero":false},"axis":null},"y":{"field":"m","type":"quantitative","scale":{"domain":[0,100],"range":[311,210],"nice":false,"zero":false},"axis":null},"text":{"field":"label"}}},
 {"mark":{"type":"text","text":"Voltaje (mV)","fontSize":13.5,"color":"#000"},"encoding":{"x":{"datum":-1.1,"type":"quantitative","scale":{"domain":[-60,49.5],"range":[383.3,545.5],"nice":false,"zero":false},"axis":null},"y":{"datum":-32.8,"type":"quantitative","scale":{"domain":[0,100],"range":[311,210],"nice":false,"zero":false},"axis":null}}},
 {"data":{"name":"iv"},"transform":[{"filter":"datum.panel=='B'"}],"mark":{"type":"line","color":"#444","strokeWidth":1},"encoding":{"x":{"field":"v","type":"quantitative","scale":{"domain":[-60,49.5],"range":[383.3,545.5],"nice":false,"zero":false},"axis":null},"y":{"field":"m","type":"quantitative","scale":{"domain":[0,100],"range":[311,210],"nice":false,"zero":false},"axis":null},"detail":{"field":"s","type":"nominal"}}},
 {"data":{"name":"iv"},"transform":[{"filter":"datum.panel=='B'"}],"mark":{"type":"rule","color":"#111","strokeWidth":1},"encoding":{"x":{"field":"v","type":"quantitative","scale":{"domain":[-60,49.5],"range":[383.3,545.5],"nice":false,"zero":false},"axis":null},"y":{"field":"lo","type":"quantitative","scale":{"domain":[0,100],"range":[311,210],"nice":false,"zero":false},"axis":null},"y2":{"field":"hi"}}},
 {"data":{"name":"iv"},"transform":[{"filter":"datum.panel=='B'"}],"mark":{"type":"tick","orient":"horizontal","size":7,"thickness":1,"color":"#111","opacity":1},"encoding":{"x":{"field":"v","type":"quantitative","scale":{"domain":[-60,49.5],"range":[383.3,545.5],"nice":false,"zero":false},"axis":null},"y":{"field":"lo","type":"quantitative","scale":{"domain":[0,100],"range":[311,210],"nice":false,"zero":false},"axis":null}}},
 {"data":{"name":"iv"},"transform":[{"filter":"datum.panel=='B'"}],"mark":{"type":"tick","orient":"horizontal","size":7,"thickness":1,"color":"#111","opacity":1},"encoding":{"x":{"field":"v","type":"quantitative","scale":{"domain":[-60,49.5],"range":[383.3,545.5],"nice":false,"zero":false},"axis":null},"y":{"field":"hi","type":"quantitative","scale":{"domain":[0,100],"range":[311,210],"nice":false,"zero":false},"axis":null}}},
 {"data":{"name":"iv"},"transform":[{"filter":"datum.s=='PKCζ-PI+U46619'"}],"mark":{"type":"point","shape":"circle","filled":true,"color":"#111","size":55,"opacity":1},"encoding":{"x":{"field":"v","type":"quantitative","scale":{"domain":[-60,49.5],"range":[383.3,545.5],"nice":false,"zero":false},"axis":null},"y":{"field":"m","type":"quantitative","scale":{"domain":[0,100],"range":[311,210],"nice":false,"zero":false},"axis":null}}},
 {"data":{"name":"iv"},"transform":[{"filter":"datum.s=='PKCζ-PI'"}],"mark":{"type":"point","shape":"triangle-up","filled":true,"color":"#111","size":50,"opacity":1},"encoding":{"x":{"field":"v","type":"quantitative","scale":{"domain":[-60,49.5],"range":[383.3,545.5],"nice":false,"zero":false},"axis":null},"y":{"field":"m","type":"quantitative","scale":{"domain":[0,100],"range":[311,210],"nice":false,"zero":false},"axis":null}}},
 {"mark":{"type":"point","shape":"triangle-up","filled":true,"color":"#111","size":55,"opacity":1},"encoding":{"x":{"datum":-60,"type":"quantitative","scale":{"domain":[-60,49.5],"range":[383.3,545.5],"nice":false,"zero":false},"axis":null},"y":{"datum":70.3,"type":"quantitative","scale":{"domain":[0,100],"range":[311,210],"nice":false,"zero":false},"axis":null}}},
 {"mark":{"type":"point","shape":"circle","filled":true,"color":"#111","size":60,"opacity":1},"encoding":{"x":{"datum":-60,"type":"quantitative","scale":{"domain":[-60,49.5],"range":[383.3,545.5],"nice":false,"zero":false},"axis":null},"y":{"datum":44.9,"type":"quantitative","scale":{"domain":[0,100],"range":[311,210],"nice":false,"zero":false},"axis":null}}},
 {"mark":{"type":"text","text":"PKCζ-PI","fontSize":13,"align":"left","color":"#000"},"encoding":{"x":{"datum":-53.2,"type":"quantitative","scale":{"domain":[-60,49.5],"range":[383.3,545.5],"nice":false,"zero":false},"axis":null},"y":{"datum":70.3,"type":"quantitative","scale":{"domain":[0,100],"range":[311,210],"nice":false,"zero":false},"axis":null}}},
 {"mark":{"type":"text","text":"Densidad de corriente (pA/pF)","fontSize":12.5,"color":"#000"},"encoding":{"x":{"datum":-5.5,"type":"quantitative","scale":{"domain":[-60,49.5],"range":[383.3,545.5],"nice":false,"zero":false},"axis":null},"y":{"datum":117.8,"type":"quantitative","scale":{"domain":[0,100],"range":[311,210],"nice":false,"zero":false},"axis":null}}}
]},
{"data":{"name":"cpanel"},
 "layer":[
 {"transform":[{"filter":"datum.lane=='C'"}],"mark":{"type":"tick","orient":"horizontal","size":84,"thickness":1,"color":"#111","opacity":1},"encoding":{"x":{"field":"time","type":"nominal","sort":null,"scale":{"type":"band","domain":["0","30","180"],"range":[94,366],"paddingInner":0.12,"paddingOuter":0},"axis":null},"y":{"datum":0.567,"type":"quantitative","scale":{"domain":[0,1],"range":[390,360],"nice":false,"zero":false},"axis":null}}},
 {"transform":[{"filter":"datum.lane=='C'"}],"mark":{"type":"text","fontSize":11,"dx":1,"color":"#000"},"encoding":{"x":{"field":"time","type":"nominal","sort":null,"scale":{"type":"band","domain":["0","30","180"],"range":[94,366],"paddingInner":0.12,"paddingOuter":0},"axis":null},"y":{"datum":0.767,"type":"quantitative","scale":{"domain":[0,1],"range":[390,360],"nice":false,"zero":false},"axis":null},"text":{"field":"time"}}},
 {"transform":[{"filter":"datum.lane=='C'"}],"mark":{"type":"text","fontSize":11,"fontWeight":"bold","dx":-21,"color":"#000"},"encoding":{"x":{"field":"time","type":"nominal","sort":null,"scale":{"type":"band","domain":["0","30","180"],"range":[94,366],"paddingInner":0.12,"paddingOuter":0},"axis":null},"y":{"datum":0.167,"type":"quantitative","scale":{"domain":[0,1],"range":[390,360],"nice":false,"zero":false},"axis":null},"text":{"field":"lane"}}},
 {"transform":[{"filter":"datum.lane=='P'"}],"mark":{"type":"text","fontSize":11,"fontWeight":"bold","dx":29,"color":"#000"},"encoding":{"x":{"field":"time","type":"nominal","sort":null,"scale":{"type":"band","domain":["0","30","180"],"range":[94,366],"paddingInner":0.12,"paddingOuter":0},"axis":null},"y":{"datum":0.167,"type":"quantitative","scale":{"domain":[0,1],"range":[390,360],"nice":false,"zero":false},"axis":null},"text":{"field":"lane"}}}
 ]}
],
"resolve":{"scale":{"x":"independent","y":"independent"}},
"config":{"view":{"stroke":null},"font":"Liberation Serif","text":{"color":"#000","font":"Liberation Serif"}}
}
